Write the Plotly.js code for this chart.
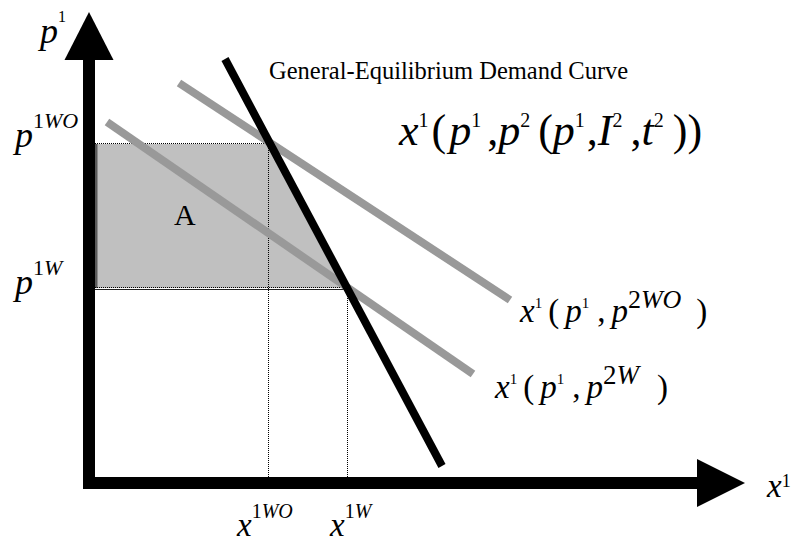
<!DOCTYPE html>
<html>
<head>
<meta charset="utf-8">
<script src="https://cdn.plot.ly/plotly-3.0.1.min.js"></script>
<style>html,body{margin:0;padding:0;background:#fff;}#chart{width:795px;height:542px;}</style>
</head>
<body>
<div id="chart"></div>
<script>
// Diagram values (units measured from the axes origin)
const priceLevels = [339, 195];        // p1WO, p1W
const quantityLevels = [179, 258];     // x1WO, x1W
const geCurveX = [136, 353];           // general-equilibrium demand curve
const geCurveY = [424, 17];
const demandWO_X = [90, 421];          // x1(p1, p2WO)
const demandWO_Y = [400, 183];
const demandW_X = [18, 384];           // x1(p1, p2W)
const demandW_Y = [361, 109];
const axisTopY = 423, arrowTipY = 471;
const axisRightX = 608, arrowTipX = 656;

const FONT = 'Liberation Serif, Times New Roman, serif';
const SNAP = 0.5;   // keeps 1px dotted guides on whole pixels
const traces = [];

// shaded area A (trapezoid left of GE curve between the two prices)
traces.push({
  x: [0, 0, quantityLevels[0], quantityLevels[1], 0],
  y: [priceLevels[1], priceLevels[0], priceLevels[0], priceLevels[1], priceLevels[1]],
  mode: 'lines', fill: 'toself', fillcolor: '#c0c0c0',
  line: {width: 0, color: '#c0c0c0'}, hoverinfo: 'skip'
});
// darker left edge and solid bottom edge of shaded area
traces.push({x: [7, 7], y: [priceLevels[1], priceLevels[0]], mode: 'lines',
  line: {color: '#5a5a5a', width: 3}, hoverinfo: 'skip'});
traces.push({x: [0, quantityLevels[1]], y: [priceLevels[1] - 2 + SNAP, priceLevels[1] - 2 + SNAP], mode: 'lines',
  line: {color: '#222', width: 1}, hoverinfo: 'skip'});
// dotted guides
const dot = {color: '#000', width: 1, dash: '1px,1px'};
traces.push({x: [0, quantityLevels[0]], y: [priceLevels[0] + SNAP, priceLevels[0] + SNAP], mode: 'lines', line: dot, hoverinfo: 'skip'});
traces.push({x: [0, quantityLevels[1]], y: [priceLevels[1] + SNAP, priceLevels[1] + SNAP], mode: 'lines', line: dot, hoverinfo: 'skip'});
traces.push({x: [quantityLevels[0] + SNAP, quantityLevels[0] + SNAP], y: [priceLevels[0], 0], mode: 'lines', line: dot, hoverinfo: 'skip'});
traces.push({x: [quantityLevels[1] + SNAP, quantityLevels[1] + SNAP], y: [priceLevels[1], 0], mode: 'lines', line: dot, hoverinfo: 'skip'});
// partial-equilibrium demand curves
traces.push({x: demandWO_X, y: demandWO_Y, mode: 'lines', line: {color: '#999999', width: 8}, hoverinfo: 'skip'});
traces.push({x: demandW_X, y: demandW_Y, mode: 'lines', line: {color: '#999999', width: 8}, hoverinfo: 'skip'});
// general-equilibrium demand curve
traces.push({x: geCurveX, y: geCurveY, mode: 'lines', line: {color: '#000', width: 8}, hoverinfo: 'skip'});
// axes
traces.push({x: [0, 0], y: [-6, axisTopY], mode: 'lines', line: {color: '#000', width: 12}, hoverinfo: 'skip'});
traces.push({x: [-6, axisRightX], y: [0, 0], mode: 'lines', line: {color: '#000', width: 12}, hoverinfo: 'skip'});
traces.push({x: [-24.5, 0, 24.5, -24.5], y: [axisTopY, arrowTipY, axisTopY, axisTopY], mode: 'lines',
  fill: 'toself', fillcolor: '#000', line: {color: '#000', width: 0}, hoverinfo: 'skip'});
traces.push({x: [axisRightX, arrowTipX, axisRightX, axisRightX], y: [-24, 0, 24, -24], mode: 'lines',
  fill: 'toself', fillcolor: '#000', line: {color: '#000', width: 0}, hoverinfo: 'skip'});

function s(t, px) { return '<sup><span style="font-size:' + px + 'px">' + t + '</span></sup>'; }
function g(w) { return '<span style="font-size:' + (4 * w) + 'px">\u00A0</span>'; }   // w-pixel gap
function big(t, px) { return '<span style="font-size:' + px + 'px">' + t + '</span>'; }
function ann(text, x, y, size, xanchor) {
  return {text: text, x: x, y: y, xref: 'x', yref: 'y', showarrow: false,
    xanchor: xanchor || 'left', yanchor: 'middle', borderpad: 0,
    font: {family: FONT, size: size, color: '#000'}};
}
const formula = '<i>x</i>' + s('1', 20) + g(3) + '(' + g(3) + '<i>p</i>' + s('1', 20) + g(6) + ',<i>p</i>' + s('2', 20) +
  g(8) + '(<i>p</i>' + s('1', 20) + g(2) + ',<i>I</i>' + s('2', 20) + g(8) + ',<i>t</i>' + s('2', 20) + g(9) + '))';
function pdLabel(sup, supSize, closeGap) {
  return '<i>x</i>' + s('1', 15) + g(6) + '(' + g(6) + '<i>p</i>' + s('1', 15) + g(8) + ',' + g(6) +
    '<i>p</i>' + s(sup, supSize) + g(closeGap) + ')';
}
const annotations = [
  ann('General-Equilibrium Demand Curve', 179, 412.5, 24.5),
  ann(formula, 308, 353, 44),
  ann(pdLabel('2<i>WO</i>', 26, 15), 429, 181, 33),
  ann(pdLabel('2<i>W</i>', 27, 18), 404, 109, 33),
  ann(big('<i>x</i>', 33) + s('1<i>WO</i>', 20), 146, -38, 43),
  ann(big('<i>x</i>', 33) + s('1<i>W</i>', 20), 239, -38, 43),
  ann(big('<i>x</i>', 33) + s('1', 18), 676, -3, 24),
  ann(big('<i>p</i>', 36) + s('1', 16), -53, 454, 50),
  ann(big('<i>p</i>', 36) + s('1<i>WO</i>', 22), -78, 352, 45),
  ann(big('<i>p</i>', 36) + s('1<i>W</i>', 22), -78, 205, 45),
  ann('A', 96, 269, 30, 'center')
];

const layout = {
  width: 795, height: 542,
  margin: {l: 0, r: 0, t: 0, b: 0, pad: 0},
  paper_bgcolor: '#fff', plot_bgcolor: '#fff',
  showlegend: false,
  xaxis: {range: [-89, 706], visible: false, fixedrange: true},
  yaxis: {range: [-59, 483], visible: false, fixedrange: true},
  annotations: annotations
};
Plotly.newPlot('chart', traces, layout, {displayModeBar: false, staticPlot: true});
</script>
</body>
</html>
